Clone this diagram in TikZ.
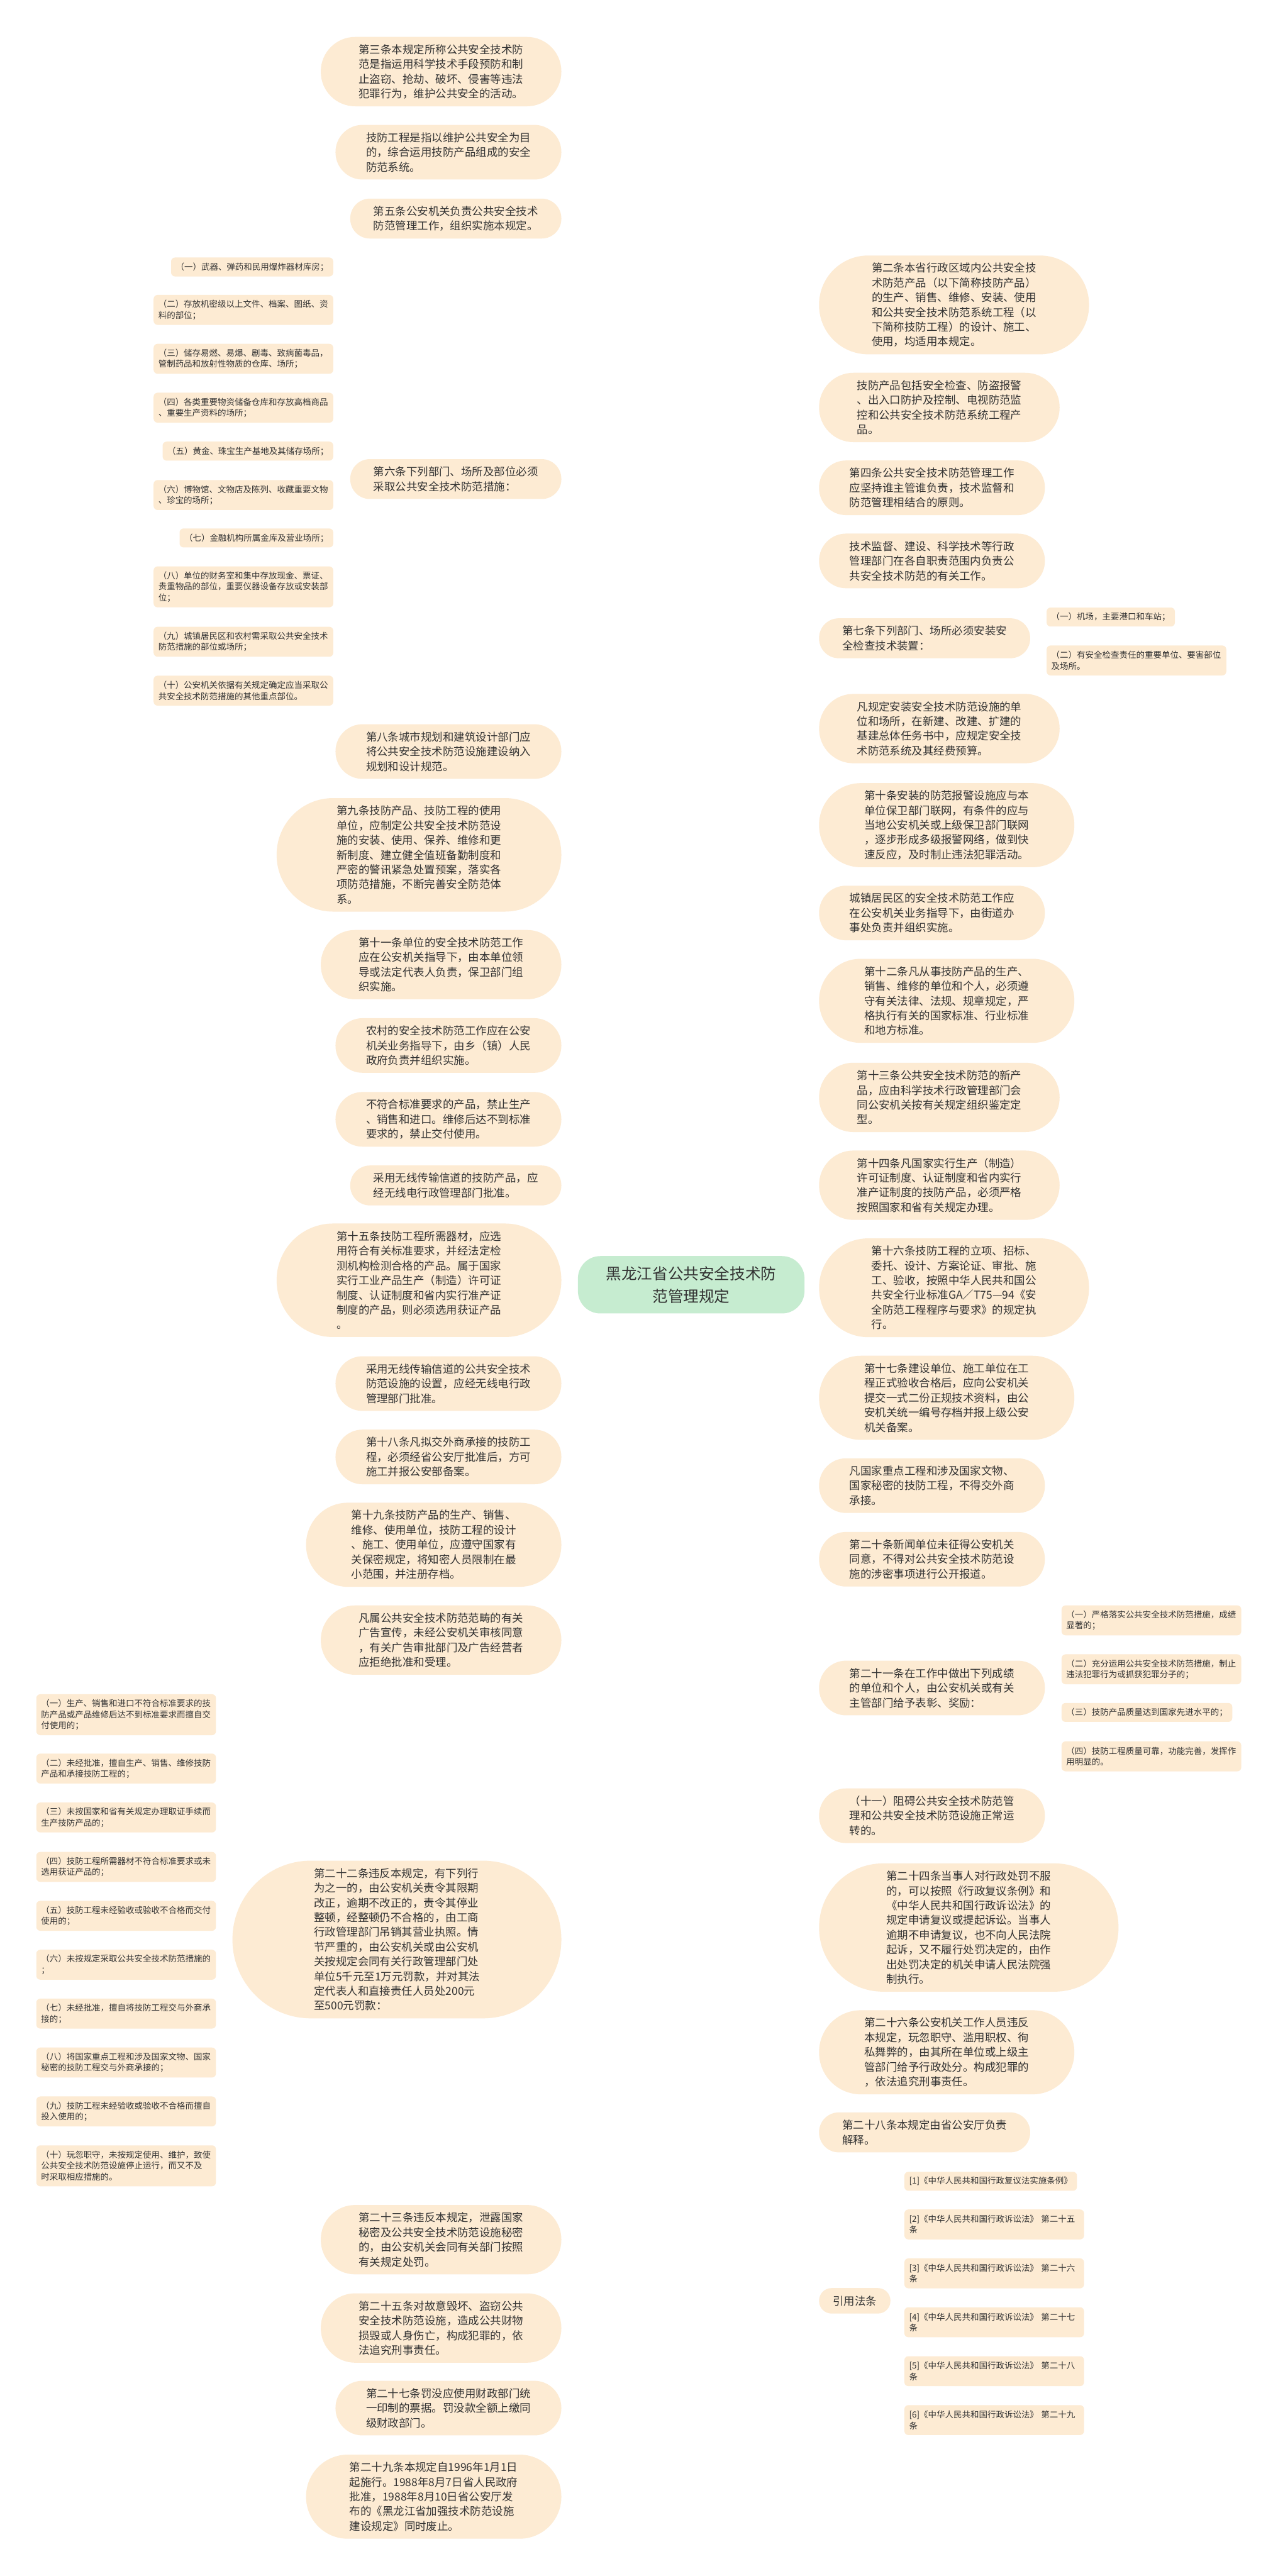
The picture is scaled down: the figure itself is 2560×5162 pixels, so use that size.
\documentclass[tikz,border=0pt]{standalone}
\usepackage{fontspec}
\setmainfont{Noto Sans CJK SC}
\pgfdeclarelayer{bg}
\pgfsetlayers{bg,main}
\definecolor{nodefill}{RGB}{253,235,211}
\definecolor{rootfill}{RGB}{198,236,208}
\definecolor{linec}{RGB}{168,221,184}
\definecolor{txt}{RGB}{51,51,51}
\begin{document}
\begin{tikzpicture}[x=1pt,y=-1pt,
  base/.style={fill=nodefill,text=txt,inner sep=0pt,align=left},
  mainn/.style={base,font=\fontsize{22}{29.5}\selectfont,minimum height={29.5*#1+21},minimum width={29.5*#1+364},rounded corners={14.75*#1+10}},
  lm/.style={mainn=#1,anchor=east},
  rm/.style={mainn=#1,anchor=west},
  subn/.style={base,font=\fontsize{17}{22}\selectfont,inner xsep=9.5pt,minimum height={22*#1+16},rounded corners=8pt},
  subw/.style={subn=#1,text width=341pt},
  ls/.style={subn=#1,anchor=east}, lsw/.style={subw=#1,anchor=east},
  rs/.style={subn=#1,anchor=west}, rsw/.style={subw=#1,anchor=west},
  conn/.style={draw=linec,line width=3pt}
]
\useasboundingbox (0,0) rectangle (2560,5162);
\fill[white] (0,0) rectangle (2560,5162);

% root
\node[fill=rootfill,text=txt,inner sep=0pt,align=center,minimum width=454pt,minimum height=115pt,rounded corners=45pt,font=\fontsize{31}{45}\selectfont] (root) at (1385,2574.5) {黑龙江省公共安全技术防\\范管理规定};
\coordinate (rl) at (1215,2575);
\coordinate (rr) at (1555,2575);

% left main nodes
\node[lm=4] (n3) at (1125,143.5) {第三条本规定所称公共安全技术防\\范是指运用科学技术手段预防和制\\止盗窃、抢劫、破坏、侵害等违法\\犯罪行为，维护公共安全的活动。};
\node[lm=3] (njf) at (1125,305) {技防工程是指以维护公共安全为目\\的，综合运用技防产品组成的安全\\防范系统。};
\node[lm=2] (n5) at (1125,438) {第五条公安机关负责公共安全技术\\防范管理工作，组织实施本规定。};
\node[lm=2] (n6) at (1125,960) {第六条下列部门、场所及部位必须\\采取公共安全技术防范措施：};
\node[lm=3] (n8) at (1125,1506) {第八条城市规划和建筑设计部门应\\将公共安全技术防范设施建设纳入\\规划和设计规范。};
\node[lm=7] (n9) at (1125,1713) {第九条技防产品、技防工程的使用\\单位，应制定公共安全技术防范设\\施的安装、使用、保养、维修和更\\新制度、建立健全值班备勤制度和\\严密的警讯紧急处置预案，落实各\\项防范措施，不断完善安全防范体\\系。};
\node[lm=4] (n11) at (1125,1933) {第十一条单位的安全技术防范工作\\应在公安机关指导下，由本单位领\\导或法定代表人负责，保卫部门组\\织实施。};
\node[lm=3] (nnc) at (1125,2095) {农村的安全技术防范工作应在公安\\机关业务指导下，由乡（镇）人民\\政府负责并组织实施。};
\node[lm=3] (nbf) at (1125,2243) {不符合标准要求的产品，禁止生产\\、销售和进口。维修后达不到标准\\要求的，禁止交付使用。};
\node[lm=2] (nwxa) at (1125,2375.5) {采用无线传输信道的技防产品，应\\经无线电行政管理部门批准。};
\node[lm=7] (n15) at (1125,2565.5) {第十五条技防工程所需器材，应选\\用符合有关标准要求，并经法定检\\测机构检测合格的产品。属于国家\\实行工业产品生产（制造）许可证\\制度、认证制度和省内实行准产证\\制度的产品，则必须选用获证产品\\。};
\node[lm=3] (nwxb) at (1125,2772.5) {采用无线传输信道的公共安全技术\\防范设施的设置，应经无线电行政\\管理部门批准。};
\node[lm=3] (n18) at (1125,2919.5) {第十八条凡拟交外商承接的技防工\\程，必须经省公安厅批准后，方可\\施工并报公安部备案。};
\node[lm=5] (n19) at (1125,3095.5) {第十九条技防产品的生产、销售、\\维修、使用单位，技防工程的设计\\、施工、使用单位，应遵守国家有\\关保密规定，将知密人员限制在最\\小范围，并注册存档。};
\node[lm=4] (nfs) at (1125,3286.5) {凡属公共安全技术防范范畴的有关\\广告宣传，未经公安机关审核同意\\，有关广告审批部门及广告经营者\\应拒绝批准和受理。};
\node[lm=10] (n22) at (1125,3886.5) {第二十二条违反本规定，有下列行\\为之一的，由公安机关责令其限期\\改正，逾期不改正的，责令其停业\\整顿，经整顿仍不合格的，由工商\\行政管理部门吊销其营业执照。情\\节严重的，由公安机关或由公安机\\关按规定会同有关行政管理部门处\\单位5千元至1万元罚款，并对其法\\定代表人和直接责任人员处200元\\至500元罚款：};
\node[lm=4] (n23) at (1125,4488) {第二十三条违反本规定，泄露国家\\秘密及公共安全技术防范设施秘密\\的，由公安机关会同有关部门按照\\有关规定处罚。};
\node[lm=4] (n25) at (1125,4665) {第二十五条对故意毁坏、盗窃公共\\安全技术防范设施，造成公共财物\\损毁或人身伤亡，构成犯罪的，依\\法追究刑事责任。};
\node[lm=3] (n27) at (1125,4825.5) {第二十七条罚没应使用财政部门统\\一印制的票据。罚没款全额上缴同\\级财政部门。};
\node[lm=5] (n29) at (1125,5003) {第二十九条本规定自1996年1月1日\\起施行。1988年8月7日省人民政府\\批准，1988年8月10日省公安厅发\\布的《黑龙江省加强技术防范设施\\建设规定》同时废止。};

% left subs of n6
\node[ls=1] (s6a) at (668,535) {（一）武器、弹药和民用爆炸器材库房；};
\node[lsw=2] (s6b) at (668,621) {（二）存放机密级以上文件、档案、图纸、资\\料的部位；};
\node[lsw=2] (s6c) at (668,719) {（三）储存易燃、易爆、剧毒、致病菌毒品，\\管制药品和放射性物质的仓库、场所；};
\node[lsw=2] (s6d) at (668,817) {（四）各类重要物资储备仓库和存放高档商品\\、重要生产资料的场所；};
\node[ls=1] (s6e) at (668,904) {（五）黄金、珠宝生产基地及其储存场所；};
\node[lsw=2] (s6f) at (668,992) {（六）博物馆、文物店及陈列、收藏重要文物\\、珍宝的场所；};
\node[ls=1] (s6g) at (668,1078) {（七）金融机构所属金库及营业场所；};
\node[lsw=3] (s6h) at (668,1176) {（八）单位的财务室和集中存放现金、票证、\\贵重物品的部位，重要仪器设备存放或安装部\\位；};
\node[lsw=2] (s6i) at (668,1286) {（九）城镇居民区和农村需采取公共安全技术\\防范措施的部位或场所；};
\node[lsw=2] (s6j) at (668,1384) {（十）公安机关依据有关规定确定应当采取公\\共安全技术防范措施的其他重点部位。};

% left subs of n22
\node[lsw=3] (s22a) at (433,3436) {（一）生产、销售和进口不符合标准要求的技\\防产品或产品维修后达不到标准要求而擅自交\\付使用的；};
\node[lsw=2] (s22b) at (433,3544) {（二）未经批准，擅自生产、销售、维修技防\\产品和承接技防工程的；};
\node[lsw=2] (s22c) at (433,3642) {（三）未按国家和省有关规定办理取证手续而\\生产技防产品的；};
\node[lsw=2] (s22d) at (433,3741) {（四）技防工程所需器材不符合标准要求或未\\选用获证产品的；};
\node[lsw=2] (s22e) at (433,3839) {（五）技防工程未经验收或验收不合格而交付\\使用的；};
\node[lsw=2] (s22f) at (433,3937) {（六）未按规定采取公共安全技术防范措施的\\；};
\node[lsw=2] (s22g) at (433,4035) {（七）未经批准，擅自将技防工程交与外商承\\接的；};
\node[lsw=2] (s22h) at (433,4133) {（八）将国家重点工程和涉及国家文物、国家\\秘密的技防工程交与外商承接的；};
\node[lsw=2] (s22i) at (433,4231) {（九）技防工程未经验收或验收不合格而擅自\\投入使用的；};
\node[lsw=3] (s22j) at (433,4340) {（十）玩忽职守，未按规定使用、维护，致使\\公共安全技术防范设施停止运行，而又不及\\时采取相应措施的。};

% right main nodes
\node[rm=6] (r2) at (1641,611) {第二条本省行政区域内公共安全技\\术防范产品（以下简称技防产品）\\的生产、销售、维修、安装、使用\\和公共安全技术防范系统工程（以\\下简称技防工程）的设计、施工、\\使用，均适用本规定。};
\node[rm=4] (rjf) at (1641,816.5) {技防产品包括安全检查、防盗报警\\、出入口防护及控制、电视防范监\\控和公共安全技术防范系统工程产\\品。};
\node[rm=3] (r4) at (1641,977.5) {第四条公共安全技术防范管理工作\\应坚持谁主管谁负责，技术监督和\\防范管理相结合的原则。};
\node[rm=3] (rjs) at (1641,1124) {技术监督、建设、科学技术等行政\\管理部门在各自职责范围内负责公\\共安全技术防范的有关工作。};
\node[rm=2] (r7) at (1641,1279) {第七条下列部门、场所必须安装安\\全检查技术装置：};
\node[rm=4] (rfg) at (1641,1460) {凡规定安装安全技术防范设施的单\\位和场所，在新建、改建、扩建的\\基建总体任务书中，应规定安全技\\术防范系统及其经费预算。};
\node[rm=5] (r10) at (1641,1653.5) {第十条安装的防范报警设施应与本\\单位保卫部门联网，有条件的应与\\当地公安机关或上级保卫部门联网\\，逐步形成多级报警网络，做到快\\速反应，及时制止违法犯罪活动。};
\node[rm=3] (rcz) at (1641,1829.5) {城镇居民区的安全技术防范工作应\\在公安机关业务指导下，由街道办\\事处负责并组织实施。};
\node[rm=5] (r12) at (1641,2005.5) {第十二条凡从事技防产品的生产、\\销售、维修的单位和个人，必须遵\\守有关法律、法规、规章规定，严\\格执行有关的国家标准、行业标准\\和地方标准。};
\node[rm=4] (r13) at (1641,2199) {第十三条公共安全技术防范的新产\\品，应由科学技术行政管理部门会\\同公安机关按有关规定组织鉴定定\\型。};
\node[rm=4] (r14) at (1641,2375) {第十四条凡国家实行生产（制造）\\许可证制度、认证制度和省内实行\\准产证制度的技防产品，必须严格\\按照国家和省有关规定办理。};
\node[rm=6] (r16) at (1641,2580.5) {第十六条技防工程的立项、招标、\\委托、设计、方案论证、审批、施\\工、验收，按照中华人民共和国公\\共安全行业标准GA／T75—94《安\\全防范工程程序与要求》的规定执\\行。};
\node[rm=5] (r17) at (1641,2801) {第十七条建设单位、施工单位在工\\程正式验收合格后，应向公安机关\\提交一式二份正规技术资料，由公\\安机关统一编号存档并报上级公安\\机关备案。};
\node[rm=3] (rgj) at (1641,2977) {凡国家重点工程和涉及国家文物、\\国家秘密的技防工程，不得交外商\\承接。};
\node[rm=3] (r20) at (1641,3124.5) {第二十条新闻单位未征得公安机关\\同意，不得对公共安全技术防范设\\施的涉密事项进行公开报道。};
\node[rm=3] (r21) at (1641,3382.5) {第二十一条在工作中做出下列成绩\\的单位和个人，由公安机关或有关\\主管部门给予表彰、奖励：};
\node[rm=3] (r11b) at (1641,3638.5) {（十一）阻碍公共安全技术防范管\\理和公共安全技术防范设施正常运\\转的。};
\node[rm=8] (r24) at (1641,3862.5) {第二十四条当事人对行政处罚不服\\的，可以按照《行政复议条例》和\\《中华人民共和国行政诉讼法》的\\规定申请复议或提起诉讼。当事人\\逾期不申请复议，也不向人民法院\\起诉，又不履行处罚决定的，由作\\出处罚决定的机关申请人民法院强\\制执行。};
\node[rm=5] (r26) at (1641,4112.5) {第二十六条公安机关工作人员违反\\本规定，玩忽职守、滥用职权、徇\\私舞弊的，由其所在单位或上级主\\管部门给予行政处分。构成犯罪的\\，依法追究刑事责任。};
\node[rm=2] (r28) at (1641,4273) {第二十八条本规定由省公安厅负责\\解释。};
\node[base,font=\fontsize{22}{29.5}\selectfont,minimum height=51pt,minimum width=143pt,rounded corners=25pt,anchor=west] (ryy) at (1641,4610.5) {引用法条};

% right subs
\node[rs=1] (s7a) at (2097,1236.5) {（一）机场，主要港口和车站；};
\node[rsw=2] (s7b) at (2097,1323.5) {（二）有安全检查责任的重要单位、要害部位\\及场所。};
\node[rsw=2] (s21a) at (2127,3247) {（一）严格落实公共安全技术防范措施，成绩\\显著的；};
\node[rsw=2] (s21b) at (2127,3345) {（二）充分运用公共安全技术防范措施，制止\\违法犯罪行为或抓获犯罪分子的；};
\node[rs=1] (s21c) at (2127,3431.5) {（三）技防产品质量达到国家先进水平的；};
\node[rsw=2] (s21d) at (2127,3519.5) {（四）技防工程质量可靠，功能完善，发挥作\\用明显的。};
\node[rs=1] (sya) at (1812,4371) {[1]《中华人民共和国行政复议法实施条例》};
\node[rsw=2] (syb) at (1812,4457.5) {[2]《中华人民共和国行政诉讼法》~第二十五\\条};
\node[rsw=2] (syc) at (1812,4555.5) {[3]《中华人民共和国行政诉讼法》~第二十六\\条};
\node[rsw=2] (syd) at (1812,4653.5) {[4]《中华人民共和国行政诉讼法》~第二十七\\条};
\node[rsw=2] (sye) at (1812,4751.5) {[5]《中华人民共和国行政诉讼法》~第二十八\\条};
\node[rsw=2] (syf) at (1812,4849.5) {[6]《中华人民共和国行政诉讼法》~第二十九\\条};

\begin{pgfonlayer}{bg}
\foreach \n in {n3,njf,n5,n6,n8,n9,n11,nnc,nbf,nwxa,n15,nwxb,n18,n19,nfs,n22,n23,n25,n27,n29}
  \draw[conn] (rl) .. controls (rl |- \n.east) .. (\n.east);
\foreach \n in {r2,rjf,r4,rjs,r7,rfg,r10,rcz,r12,r13,r14,r16,r17,rgj,r20,r21,r11b,r24,r26,r28,ryy}
  \draw[conn] (rr) .. controls (rr |- \n.west) .. (\n.west);
\foreach \c in {s6a,s6b,s6c,s6d,s6e,s6f,s6g,s6h,s6i,s6j}
  \draw[conn] (n6.west) .. controls +(-17,0) and +(17,0) .. (\c.east);
\foreach \c in {s22a,s22b,s22c,s22d,s22e,s22f,s22g,s22h,s22i,s22j}
  \draw[conn] (n22.west) .. controls +(-17,0) and +(17,0) .. (\c.east);
\foreach \c in {s7a,s7b}
  \draw[conn] (r7.east) .. controls +(17,0) and +(-17,0) .. (\c.west);
\foreach \c in {s21a,s21b,s21c,s21d}
  \draw[conn] (r21.east) .. controls +(17,0) and +(-17,0) .. (\c.west);
\foreach \c in {sya,syb,syc,syd,sye,syf}
  \draw[conn] (ryy.east) .. controls +(15,0) and +(-15,0) .. (\c.west);
\end{pgfonlayer}
\end{tikzpicture}
\end{document}
